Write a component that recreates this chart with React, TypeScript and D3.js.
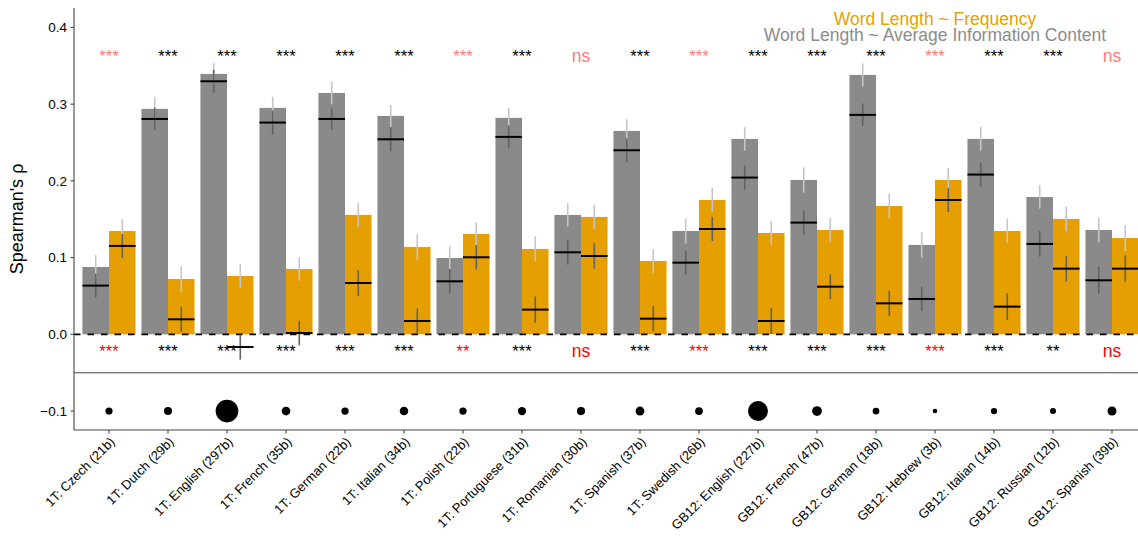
import React from "react";
import * as d3 from "d3";

const categories = [
  "1T: Czech (21b)", "1T: Dutch (29b)", "1T: English (297b)", "1T: French (35b)",
  "1T: German (22b)", "1T: Italian (34b)", "1T: Polish (22b)", "1T: Portuguese (31b)",
  "1T: Romanian (30b)", "1T: Spanish (37b)", "1T: Swedish (26b)", "GB12: English (227b)",
  "GB12: French (47b)", "GB12: German (18b)", "GB12: Hebrew (3b)", "GB12: Italian (14b)",
  "GB12: Russian (12b)", "GB12: Spanish (39b)",
];
const corpusSize = [21, 29, 297, 35, 22, 34, 22, 31, 30, 37, 26, 227, 47, 18, 3, 14, 12, 39];

// Word Length ~ Average Information Content (grey)
const aicBar = [0.0878, 0.2938, 0.3394, 0.2951, 0.3146, 0.2847, 0.0995, 0.2821, 0.1556, 0.2651, 0.1347, 0.2547, 0.2012, 0.3381, 0.1165, 0.2547, 0.179, 0.136];
const aicBarErr = [0.0156, 0.0156, 0.0143, 0.0148, 0.0148, 0.0143, 0.0155, 0.0134, 0.0152, 0.0152, 0.0163, 0.0154, 0.0166, 0.015, 0.0165, 0.0156, 0.0152, 0.016];
const aicLine = [0.0635, 0.2807, 0.3298, 0.276, 0.2807, 0.2542, 0.0691, 0.2573, 0.1069, 0.2399, 0.0934, 0.2043, 0.1456, 0.286, 0.0461, 0.2082, 0.1178, 0.0704];
const aicLineErr = [0.0155, 0.0146, 0.0148, 0.0156, 0.014, 0.0156, 0.0163, 0.0148, 0.016, 0.0156, 0.0158, 0.016, 0.016, 0.0148, 0.016, 0.016, 0.0167, 0.0172];

// Word Length ~ Frequency (orange)
const freqBar = [0.1347, 0.0721, 0.0761, 0.0852, 0.1556, 0.1139, 0.1308, 0.1113, 0.153, 0.0956, 0.1751, 0.1321, 0.136, 0.1673, 0.2012, 0.1347, 0.1504, 0.1256];
const freqBarErr = [0.0152, 0.0165, 0.0157, 0.0154, 0.016, 0.0165, 0.0148, 0.0163, 0.0158, 0.0156, 0.0156, 0.0157, 0.016, 0.016, 0.0157, 0.016, 0.016, 0.017];
const freqLine = [0.1152, 0.0196, -0.0165, 0.0017, 0.0669, 0.0174, 0.1004, 0.0322, 0.1021, 0.0204, 0.1373, 0.0174, 0.0621, 0.0404, 0.1751, 0.0361, 0.0856, 0.0856];
const freqLineErr = [0.0155, 0.0163, 0.0165, 0.016, 0.0167, 0.0163, 0.016, 0.017, 0.0165, 0.0167, 0.0158, 0.017, 0.0163, 0.0165, 0.0157, 0.0174, 0.0165, 0.0174];

const sigTop = ["***", "***", "***", "***", "***", "***", "***", "***", "ns", "***", "***", "***", "***", "***", "***", "***", "***", "ns"];
const sigTopFlag = [1, 0, 0, 0, 0, 0, 1, 0, 1, 0, 1, 0, 0, 0, 1, 0, 0, 1];
const sigBottom = ["***", "***", "***", "***", "***", "***", "**", "***", "ns", "***", "***", "***", "***", "***", "***", "***", "**", "ns"];
const sigBottomFlag = [1, 0, 0, 0, 0, 0, 1, 0, 1, 0, 1, 0, 0, 0, 1, 0, 0, 1];

const yTicks = [0.4, 0.3, 0.2, 0.1, 0.0, -0.1];
const legendLabels = ["Word Length ~ Frequency", "Word Length ~ Average Information Content"];

const W = 1138;
const H = 542;
const FONT = "'Liberation Sans', Arial, Helvetica, sans-serif";
const GREY = "#8a8a8a";
const ORANGE = "#E69F00";
const LIGHT_ERR = "#c6c6c6";
const DARK_ERR = "#626262";

export default function App() {
  const left = 74;
  const top = 8;
  const bottom = 430;
  const x = d3.scalePoint<string>().domain(categories).range([73.6, 1147.4]).padding(0.6);
  const step = x.step();
  const bw = step * 0.45;
  const y = d3.scaleLinear().domain([-0.1247, 0.4253]).range([bottom, top]);
  const area = d3.scaleLinear().domain([3, 297]).range([2.3 * 2.3, 11.35 * 11.35]);
  const fmt = (v: number) => (v < 0 ? "\u2212" : "") + Math.abs(v).toFixed(1);

  const groups = categories.map((c, i) => ({ c, i, cx: x(c) as number }));

  return (
    <div style={{ position: "absolute", left: 0, top: 0 }}>
      <svg width={W} height={H} style={{ display: "block", background: "#fff" }} fontFamily={FONT}>
        {/* bars */}
        {groups.map(({ c, i, cx }) => (
          <g key={"b" + c}>
            <rect x={cx - bw} y={y(Math.max(0, aicBar[i]))} width={bw} height={Math.abs(y(aicBar[i]) - y(0))} fill={GREY} />
            <rect x={cx} y={y(Math.max(0, freqBar[i]))} width={bw} height={Math.abs(y(freqBar[i]) - y(0))} fill={ORANGE} />
          </g>
        ))}
        {/* zero dashed line */}
        <line x1={left} x2={W} y1={y(0)} y2={y(0)} stroke="#000" strokeWidth={1.8} strokeDasharray="6.5,7" />
        {/* separator */}
        <line x1={left} x2={W} y1={y(-0.05)} y2={y(-0.05)} stroke="#4a4a4a" strokeWidth={1.1} />
        {/* error bars */}
        {groups.map(({ c, i, cx }) => {
          const gx = cx - bw / 2;
          const ox = cx + bw / 2;
          return (
            <g key={"e" + c}>
              <line x1={gx} x2={gx} y1={y(aicBar[i] + aicBarErr[i])} y2={y(aicBar[i] - aicBarErr[i])} stroke={LIGHT_ERR} strokeWidth={1.6} />
              <line x1={ox} x2={ox} y1={y(freqBar[i] + freqBarErr[i])} y2={y(freqBar[i] - freqBarErr[i])} stroke={LIGHT_ERR} strokeWidth={1.6} />
              <line x1={gx} x2={gx} y1={y(aicLine[i] + aicLineErr[i])} y2={y(aicLine[i] - aicLineErr[i])} stroke={DARK_ERR} strokeWidth={1.6} />
              <line x1={ox} x2={ox} y1={y(freqLine[i] + freqLineErr[i])} y2={y(freqLine[i] - freqLineErr[i])} stroke={DARK_ERR} strokeWidth={1.6} />
              <line x1={cx - bw} x2={cx} y1={y(aicLine[i])} y2={y(aicLine[i])} stroke="#000" strokeWidth={2} />
              <line x1={cx} x2={cx + bw} y1={y(freqLine[i])} y2={y(freqLine[i])} stroke="#000" strokeWidth={2} />
            </g>
          );
        })}
        {/* significance labels */}
        {groups.map(({ c, i, cx }) => (
          <g key={"s" + c}>
            <text x={cx} y={y(0.3545)} textAnchor="middle" fontSize={sigTop[i] === "ns" ? 17.5 : 16.5}
              fill={sigTopFlag[i] ? "#ff7b7b" : "#000"}>{sigTop[i]}</text>
            <text x={cx} y={y(-0.0297)} textAnchor="middle" fontSize={sigBottom[i] === "ns" ? 17.5 : 16.5}
              fill={sigBottomFlag[i] ? "#ff0000" : "#000"}>{sigBottom[i]}</text>
          </g>
        ))}
        {/* corpus size dots */}
        {groups.map(({ c, i, cx }) => (
          <circle key={"d" + c} cx={cx} cy={y(-0.1)} r={Math.sqrt(area(corpusSize[i]))} fill="#000" />
        ))}
        {/* axes */}
        <line x1={left} x2={left} y1={top} y2={bottom} stroke="#444" strokeWidth={1.1} />
        <line x1={left} x2={W} y1={bottom} y2={bottom} stroke="#444" strokeWidth={1.1} />
        {yTicks.map((t) => (
          <g key={"yt" + t}>
            <line x1={left - 3.5} x2={left} y1={y(t)} y2={y(t)} stroke="#444" strokeWidth={1.1} />
            <text x={left - 7} y={y(t)} dy="0.36em" textAnchor="end" fontSize={13.5} fill="#000">{fmt(t)}</text>
          </g>
        ))}
        {groups.map(({ c, cx }) => (
          <g key={"xt" + c}>
            <line x1={cx} x2={cx} y1={bottom} y2={bottom + 3.5} stroke="#444" strokeWidth={1.1} />
            <text transform={`translate(${cx},${bottom + 6}) rotate(-45)`} textAnchor="end" dy="0.72em" fontSize={13} fill="#000">{c}</text>
          </g>
        ))}
        <text transform={`translate(23,${(top + bottom) / 2}) rotate(-90)`} textAnchor="middle" fontSize={18} fill="#000">Spearman's ρ</text>
        {/* legend */}
        <text x={935} y={24.5} textAnchor="middle" fontSize={17.5} fill={ORANGE}>{legendLabels[0]}</text>
        <text x={935} y={40.5} textAnchor="middle" fontSize={17.5} fill="#8c8c8c">{legendLabels[1]}</text>
      </svg>
    </div>
  );
}
